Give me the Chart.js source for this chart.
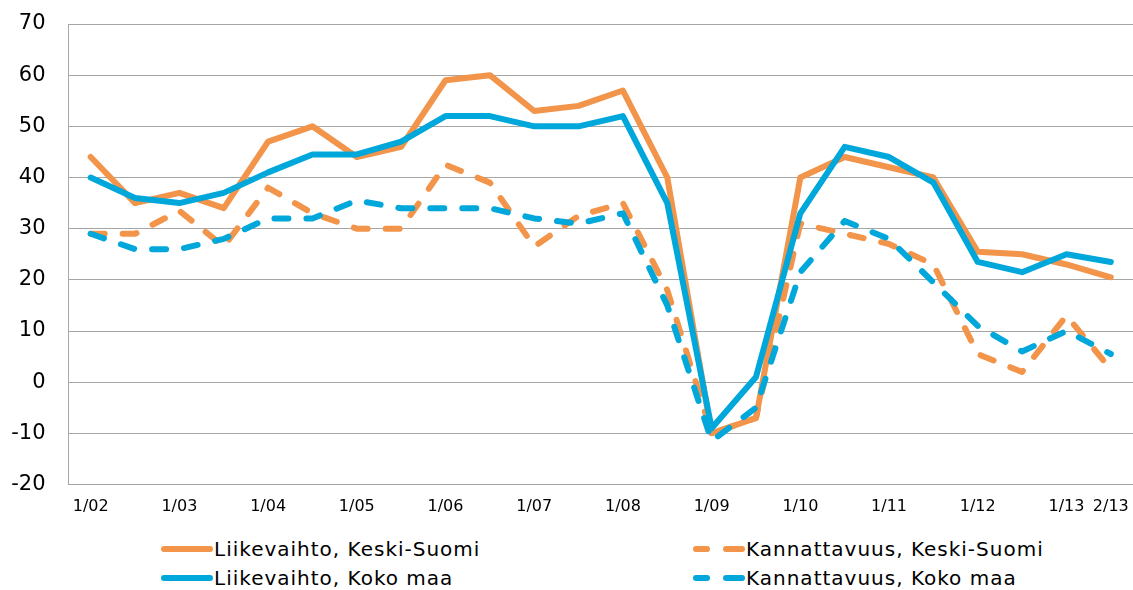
<!DOCTYPE html>
<html>
<head>
<meta charset="utf-8">
<script src="https://cdn.jsdelivr.net/npm/chart.js"></script>
<style>
  body { margin: 0; background: #fff; font-family: 'DejaVu Sans', sans-serif; }
  #wrap { position: relative; width: 1133px; height: 590px; }
  #box { position: absolute; left: 0; top: 0; width: 1133px; height: 530px; }
  #legend { position: absolute; left: 160px; top: 534px; display: grid; grid-template-columns: 532px 440px; }
  .item { display: flex; align-items: center; height: 29px; font-size: 20px; letter-spacing: 1px; color: #000; white-space: nowrap; }
  .item svg { flex: none; }
</style>
</head>
<body>
<div id="wrap">
  <div id="box"><canvas id="chart"></canvas></div>
  <div id="legend"></div>
</div>

<script>
// half-year periods
const categories = ['1/02', '2/02', '1/03', '2/03', '1/04', '2/04', '1/05', '2/05', '1/06', '2/06', '1/07', '2/07',
                    '1/08', '2/08', '1/09', '2/09', '1/10', '2/10', '1/11', '2/11', '1/12', '2/12', '1/13', '2/13'];
const shownTicks = ['1/02', '1/03', '1/04', '1/05', '1/06', '1/07', '1/08', '1/09', '1/10', '1/11', '1/12', '1/13', '2/13'];

const liikevaihtoKS = [44, 35, 37, 34, 47, 50, 44, 46, 59, 60, 53, 54, 57, 40, -10, -7, 40, 44, 42, 40, 25.5, 25, 23, 20.5];
const kannattavuusKS = [29, 29, 33.5, 26.5, 38, 33, 30, 30, 42.5, 39, 26.5, 32.5, 35, 18, -10, -7, 31, 29, 27, 23, 5.5, 2, 13, 2.5];
const liikevaihtoKM = [40, 36, 35, 37, 41, 44.5, 44.5, 47, 52, 52, 50, 50, 52, 35, -9, 1, 33, 46, 44, 39, 23.5, 21.5, 25, 23.5];
const kannattavuusKM = [29, 26, 26, 28, 32, 32, 35.5, 34, 34, 34, 32, 31, 33, 15, -11.5, -5, 21.5, 31.5, 28, 19.5, 11, 6, 10, 5.5];

const orange = '#f29449';
const blue = '#00a7db';
const gridGray = '#a6a6a6';

function line(label, data, color, dashed, order) {
  return {
    label: label,
    data: data,
    borderColor: color,
    backgroundColor: color,
    borderWidth: 6,
    borderDash: dashed ? [14, 18] : [],
    borderCapStyle: 'round',
    borderJoinStyle: 'round',
    pointRadius: 0,
    tension: 0,
    fill: false,
    order: order
  };
}

const datasets = [
  line('Liikevaihto, Keski-Suomi', liikevaihtoKS, orange, false, 3),
  line('Kannattavuus, Keski-Suomi', kannattavuusKS, orange, true, 2),
  line('Liikevaihto, Koko maa', liikevaihtoKM, blue, false, 1),
  line('Kannattavuus, Koko maa', kannattavuusKM, blue, true, 0)
];

new Chart(document.getElementById('chart'), {
  type: 'line',
  data: { labels: categories, datasets: datasets },
  options: {
    responsive: true,
    maintainAspectRatio: false,
    animation: false,
    layout: { padding: { top: 24, left: 11.5, right: 0, bottom: 13.5 } },
    plugins: { legend: { display: false }, tooltip: { enabled: false } },
    scales: {
      x: {
        offset: true,
        grid: { display: false, drawTicks: false },
        border: { display: true, color: gridGray, width: 1 },
        ticks: {
          autoSkip: false,
          maxRotation: 0,
          padding: 13,
          color: '#000',
          font: { family: 'DejaVu Sans', size: 16 },
          callback: function (value, index) {
            const lab = categories[index];
            return shownTicks.includes(lab) ? lab : '';
          }
        },
        afterFit: function (scale) {
          scale.height = 32;
          scale.paddingLeft = 0;
          scale.paddingRight = 0;
        }
      },
      y: {
        min: -20,
        max: 70,
        grid: { color: gridGray, lineWidth: 1, drawTicks: false },
        border: { display: true, color: gridGray, width: 1 },
        ticks: {
          stepSize: 10,
          padding: 23,
          color: '#000',
          font: { family: 'DejaVu Sans', size: 21 }
        },
        afterFit: function (scale) {
          scale.width = 57;
          scale.paddingTop = 0;
          scale.paddingBottom = 0;
        }
      }
    }
  }
});

// legend in two columns, same order as the original
const legend = document.getElementById('legend');
datasets.forEach(function (ds) {
  const dashed = ds.borderDash.length > 0;
  const sample = dashed
    ? '<line x1="4" y1="5" x2="15" y2="5"/><line x1="34" y1="5" x2="50" y2="5"/>'
    : '<line x1="4" y1="5" x2="50" y2="5"/>';
  const div = document.createElement('div');
  div.className = 'item';
  div.innerHTML = '<svg width="54" height="10"><g stroke="' + ds.borderColor + '" stroke-width="6" stroke-linecap="round">' +
    sample + '</g></svg><span>' + ds.label + '</span>';
  legend.appendChild(div);
});
</script>
</body>
</html>
